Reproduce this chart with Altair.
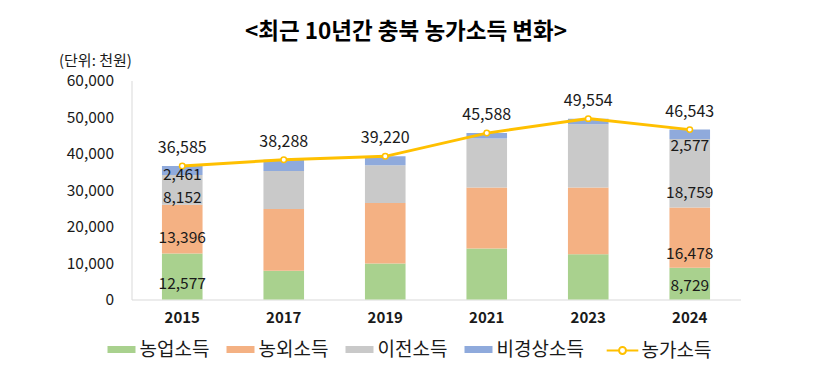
import altair as alt
import pandas as pd

years = ["2015", "2017", "2019", "2021", "2023", "2024"]
series = ["농업소득", "농외소득", "이전소득", "비경상소득"]
farm = [12577, 7900, 9860, 13960, 12400, 8729]
nonfarm = [13396, 16900, 16590, 16710, 18270, 16478]
transfer = [8152, 10400, 10350, 13410, 17330, 18759]
irregular = [2461, 3088, 2420, 1508, 1554, 2577]
total = [36585, 38288, 39220, 45588, 49554, 46543]
total_name = "농가소득"
labeled_years = ["2015", "2024"]
y_ticks = [0, 10000, 20000, 30000, 40000, 50000, 60000]

colors = ["#A9D18E", "#F4B183", "#C9C9C9", "#8FAADC"]
line_color = "#FFC000"
FONT = "Noto Sans CJK KR"
TXT = "#1A1A1A"

rows = []
for i, y in enumerate(years):
    vals = [farm[i], nonfarm[i], transfer[i], irregular[i]]
    bottom = 0
    for k, s in enumerate(series):
        v = vals[k]
        rows.append({"year": y, "series": s, "value": v, "order": k,
                     "mid": bottom + v / 2, "label": f"{v:,}"})
        bottom += v
df = pd.DataFrame(rows)
tdf = pd.DataFrame({"year": years, "total": total, "name": total_name,
                    "label": [f"{t:,}" for t in total]})

x_enc = alt.X("year:N", sort=years, title=None,
              scale=alt.Scale(paddingInner=0.6, paddingOuter=0.3),
              axis=alt.Axis(labelFontSize=15, labelFontWeight="bold", labelFont=FONT,
                            labelColor=TXT, ticks=False, labelPadding=11,
                            domainColor="#D9D9D9", labelAngle=0))

y_axis = alt.Axis(values=y_ticks, format=",d", labelFontSize=15.5, labelFont=FONT,
                  labelColor=TXT, ticks=False, grid=False, labelPadding=18,
                  labelOverlap=False, domainColor="#D9D9D9",
                  titleAngle=0, titleAlign="left", titleBaseline="middle",
                  titleX=-73, titleY=-20, titleFontSize=15,
                  titleFontWeight="normal", titleFont=FONT, titleColor=TXT)
y_scale = alt.Scale(domain=[0, 60000], nice=False)
Y_TITLE = "(단위: 천원)"


def y_enc(field, **kw):
    return alt.Y(field, title=Y_TITLE, scale=y_scale, axis=y_axis, **kw)


bar_symbol = "M-1,-0.25H1V0.25H-1Z"
line_symbol = "M-1,0H-0.22M0.22,0H1M-0.22,0A0.22,0.22 0 1,1 0.22,0A0.22,0.22 0 1,1 -0.22,0"

bars = alt.Chart(df).mark_bar().encode(
    x=x_enc,
    y=y_enc("value:Q", stack="zero"),
    color=alt.Color("series:N", sort=series,
                    scale=alt.Scale(domain=series, range=colors),
                    legend=alt.Legend(title=None, orient="none", direction="horizontal",
                                      columns=4, legendX=-24, legendY=255,
                                      symbolType=bar_symbol, symbolSize=784,
                                      symbolStrokeWidth=0, labelFontSize=19,
                                      labelFont=FONT, labelColor=TXT, labelOffset=4,
                                      columnPadding=17)),
    order=alt.Order("order:Q", sort="ascending"),
)

line = alt.Chart(tdf).mark_line(strokeWidth=3).encode(
    x=x_enc,
    y=y_enc("total:Q"),
    stroke=alt.Stroke("name:N", scale=alt.Scale(domain=[total_name], range=[line_color]),
                      legend=alt.Legend(title=None, orient="none", direction="horizontal",
                                        legendX=474, legendY=253,
                                        symbolType=line_symbol, symbolSize=1000,
                                        symbolStrokeWidth=2, symbolFillColor="white",
                                        symbolStrokeColor=line_color,
                                        labelFontSize=19, labelFont=FONT, labelColor=TXT,
                                        labelOffset=2)),
)

points = alt.Chart(tdf).mark_point(shape="circle", filled=True, fill="white",
                                   stroke=line_color, strokeWidth=1.5, size=30,
                                   opacity=1).encode(x=x_enc, y=y_enc("total:Q"))

totals = alt.Chart(tdf).mark_text(dy=-18, fontSize=16, font=FONT, color=TXT).encode(
    x=x_enc, y=y_enc("total:Q"), text="label:N")

seg_dy = {("2015", "농업소득"): 7, ("2015", "농외소득"): 9, ("2015", "이전소득"): 8,
          ("2015", "비경상소득"): 5, ("2024", "농업소득"): 2, ("2024", "농외소득"): 16,
          ("2024", "이전소득"): 20, ("2024", "비경상소득"): 12}
seg_layers = []
for (yr, s), d in seg_dy.items():
    sub = df[(df["year"] == yr) & (df["series"] == s)]
    seg_layers.append(
        alt.Chart(sub).mark_text(dy=d, fontSize=15.5, font=FONT, color=TXT).encode(
            x=x_enc, y=y_enc("mid:Q"), text="label:N"))

chart = alt.layer(bars, line, points, totals, *seg_layers).properties(
    width=609, height=219, autosize="none",
    padding={"left": 123.5, "top": 72.5, "right": 60, "bottom": 70},
    title=alt.Title("<최근 10년간 충북 농가소득 변화>", fontSize=22.5, fontWeight="bold",
                    font=FONT, color="#000000", anchor="middle", frame="group",
                    dx=-30, dy=-6),
).configure_view(stroke=None)

chart.save("out.html", embed_options={"renderer": "svg", "actions": False})
